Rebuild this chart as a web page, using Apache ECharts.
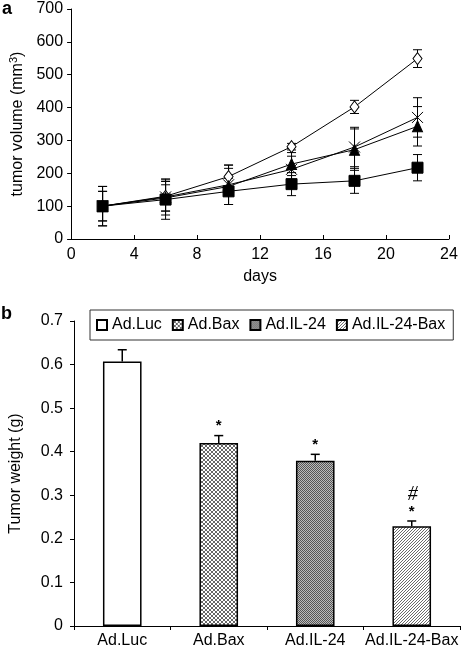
<!DOCTYPE html>
<html><head><meta charset="utf-8">
<script src="https://cdn.jsdelivr.net/npm/echarts@6/dist/echarts.min.js"></script>
<style>html,body{margin:0;padding:0;background:#fff}#c{width:462px;height:650px}</style>
</head><body><div id="c"></div>
<script>
// ---- panel a: tumor volume (mm3) over days ----
const days = [2, 6, 10, 14, 18, 22];
const lucVol = [100, 130, 190, 281, 402, 549];
const lucErr = [45, 45, 35, 10, 20, 27];
const baxVol = [100, 128, 165, 212, 280, 370];
const baxErr = [60, 55, 60, 40, 60, 60];
const il24Vol = [100, 125, 160, 228, 272, 343];
const il24Err = [45, 40, 55, 35, 63, 60];
const comboVol = [100, 120, 145, 167, 177, 217];
const comboErr = [60, 60, 40, 35, 38, 40];
const xTicks = [0, 4, 8, 12, 16, 20, 24];
const yTicksA = [0, 100, 200, 300, 400, 500, 600, 700];

// ---- panel b: tumor weight (g) ----
const barCats = ['Ad.Luc', 'Ad.Bax', 'Ad.IL-24', 'Ad.IL-24-Bax'];
const barVals = [0.607, 0.420, 0.379, 0.229];
const barErr = [0.027, 0.017, 0.015, 0.012];
const barStar = ['', '*', '*', '*'];
const barHash = ['', '', '', '#'];
const yTicksB = [0, 0.1, 0.2, 0.3, 0.4, 0.5, 0.6, 0.7];

const FONT = "'Liberation Sans', Arial, sans-serif";
const FS = 16;

function pat(w, h, draw) {
  const c = document.createElement('canvas');
  c.width = w; c.height = h;
  const g = c.getContext('2d');
  g.fillStyle = '#fff'; g.fillRect(0, 0, w, h);
  draw(g);
  return { image: c, repeat: 'repeat' };
}
const patLuc = '#fff';
const patBax = pat(4, 4, g => {
  g.fillStyle = '#666';
  for (let i = 0; i < 4; i++) { g.fillRect(i, i, 1, 1); g.fillRect(3 - i, i, 1, 1); }
});
const patIl = pat(2, 2, g => {
  g.fillStyle = '#bbb'; g.fillRect(0, 0, 2, 2);
  g.fillStyle = '#555'; g.fillRect(0, 0, 1, 1); g.fillRect(1, 1, 1, 1);
});
const patCombo = pat(3, 3, g => {
  g.fillStyle = '#6a6a6a';
  g.fillRect(2, 0, 1, 1); g.fillRect(1, 1, 1, 1); g.fillRect(0, 2, 1, 1);
});
const barFills = [patLuc, patBax, patIl, patCombo];

const chart = echarts.init(document.getElementById('c'), null, { renderer: 'canvas' });

function lineSeries(name, vals, symbol, size, fill) {
  return {
    name: name, type: 'line', xAxisIndex: 0, yAxisIndex: 0,
    data: days.map((d, i) => [d, vals[i]]),
    symbol: symbol, symbolSize: size, showAllSymbol: true,
    lineStyle: { color: '#000', width: 1 },
    itemStyle: { color: fill, borderColor: '#000', borderWidth: 1 },
    z: 5, animation: false
  };
}
function errSeries(vals, errs, z) {
  return {
    type: 'custom', xAxisIndex: 0, yAxisIndex: 0, z: z, animation: false,
    data: days.map((d, i) => [d, vals[i] - errs[i], vals[i] + errs[i]]),
    renderItem: function (params, api) {
      const lo = api.coord([api.value(0), api.value(1)]);
      const hi = api.coord([api.value(0), api.value(2)]);
      const w = 4.5;
      const st = { stroke: '#000', lineWidth: 1 };
      return {
        type: 'group', children: [
          { type: 'line', shape: { x1: lo[0], y1: lo[1], x2: hi[0], y2: hi[1] }, style: st },
          { type: 'line', shape: { x1: lo[0] - w, y1: lo[1], x2: lo[0] + w, y2: lo[1] }, style: st },
          { type: 'line', shape: { x1: hi[0] - w, y1: hi[1], x2: hi[0] + w, y2: hi[1] }, style: st }
        ]
      };
    }
  };
}

const barSeries = barCats.map((name, k) => ({
  name: name, type: 'bar', xAxisIndex: 1, yAxisIndex: 1,
  data: barVals.map((v, i) => (i === k ? v : '-')),
  barWidth: '40%', barGap: '-100%',
  itemStyle: { color: barFills[k], borderColor: '#000', borderWidth: 1.5 },
  animation: false, z: 3
}));

const option = {
  backgroundColor: '#fff',
  textStyle: { fontFamily: FONT, color: '#000' },
  grid: [
    { left: 71, right: 13, top: 9, bottom: 411, containLabel: false },
    { left: 67, right: 2, top: 321, bottom: 24, containLabel: false }
  ],
  legend: {
    data: barCats, left: 90, right: 0, top: 310,
    orient: 'horizontal',
    padding: [7, 8, 7, 6], itemGap: 10,
    itemWidth: 10, itemHeight: 10, icon: 'rect',
    borderColor: '#333', borderWidth: 1,
    textStyle: { fontFamily: FONT, fontSize: FS, color: '#000' },
    selectedMode: false
  },
  xAxis: [
    {
      type: 'value', gridIndex: 0, min: 0, max: 24, interval: 4,
      name: 'days', nameLocation: 'middle', nameGap: 30,
      nameTextStyle: { fontSize: FS, color: '#000', fontFamily: FONT },
      axisLine: { lineStyle: { color: '#000', width: 1 } },
      axisTick: { inside: true, length: 4, lineStyle: { color: '#000' } },
      axisLabel: { fontSize: FS, color: '#000', margin: 8, fontFamily: FONT,
        formatter: v => (xTicks.indexOf(v) >= 0 ? String(v) : '') },
      splitLine: { show: false }
    },
    {
      type: 'category', gridIndex: 1, data: barCats,
      axisLine: { lineStyle: { color: '#000', width: 1 } },
      axisTick: { show: true, length: 4, lineStyle: { color: '#000' } },
      axisLabel: { fontSize: FS, color: '#000', margin: 7, fontFamily: FONT, interval: 0 },
      splitLine: { show: false }
    }
  ],
  yAxis: [
    {
      type: 'value', gridIndex: 0, min: 0, max: 700, interval: 100,
      name: '{a|tumor volume (mm}{s|3}{a|)}', nameLocation: 'middle', nameGap: 40,
      nameTextStyle: {
        rich: {
          a: { fontSize: FS, color: '#000', fontFamily: FONT },
          s: { fontSize: 11, color: '#000', fontFamily: FONT, verticalAlign: 'top', padding: [0, 0, 8, 0] }
        }
      },
      axisLine: { show: true, lineStyle: { color: '#000', width: 1 } },
      axisTick: { show: true, length: 4, lineStyle: { color: '#000' } },
      axisLabel: { fontSize: FS, color: '#000', margin: 8, fontFamily: FONT,
        formatter: v => (yTicksA.indexOf(v) >= 0 ? String(v) : '') },
      splitLine: { show: false }
    },
    {
      type: 'value', gridIndex: 1, min: 0, max: 0.7, interval: 0.1,
      name: 'Tumor weight (g)', nameLocation: 'middle', nameGap: 50,
      nameTextStyle: { fontSize: FS, color: '#000', fontFamily: FONT },
      axisLine: { show: true, lineStyle: { color: '#000', width: 1 } },
      axisTick: { show: true, length: 4, lineStyle: { color: '#000' } },
      axisLabel: { fontSize: FS, color: '#000', margin: 11, fontFamily: FONT,
        formatter: v => { const r = Math.round(v * 10) / 10; return yTicksB.indexOf(r) >= 0 ? String(r) : ''; } },
      splitLine: { show: false }
    }
  ],
  graphic: [
    { type: 'text', left: 2, top: 0, style: { text: 'a', font: "bold 18px " + FONT, fill: '#000' } },
    { type: 'text', left: 1, top: 305, style: { text: 'b', font: "bold 18px " + FONT, fill: '#000' } }
  ],
  series: [
    errSeries(lucVol, lucErr, 2),
    errSeries(baxVol, baxErr, 2),
    errSeries(il24Vol, il24Err, 2),
    errSeries(comboVol, comboErr, 2),
    lineSeries('Ad.Luc volume', lucVol, 'diamond', [9, 12], '#fff'),
    lineSeries('Ad.Bax volume', baxVol, 'path://M0,0L10,10M10,0L0,10', [11, 11], 'none'),
    lineSeries('Ad.IL-24 volume', il24Vol, 'triangle', [10, 11], '#000'),
    lineSeries('Ad.IL-24-Bax volume', comboVol, 'rect', [11, 11], '#000'),
    ...barSeries,
    {
      type: 'custom', xAxisIndex: 1, yAxisIndex: 1, z: 4, animation: false,
      data: barVals.map((v, i) => [i, v, barErr[i]]),
      renderItem: function (params, api) {
        const i = params.dataIndex;
        const base = api.coord([api.value(0), api.value(1)]);
        const top = api.coord([api.value(0), api.value(1) + api.value(2)]);
        const w = 4.5;
        const st = { stroke: '#000', lineWidth: 1.5 };
        const kids = [
          { type: 'line', shape: { x1: base[0], y1: base[1], x2: top[0], y2: top[1] }, style: st },
          { type: 'line', shape: { x1: top[0] - w, y1: top[1], x2: top[0] + w, y2: top[1] }, style: st }
        ];
        if (barStar[i]) kids.push({ type: 'text', style: { text: barStar[i], x: top[0], y: top[1] - 2,
          align: 'center', verticalAlign: 'bottom', font: 'bold 15px ' + FONT, fill: '#000' } });
        if (barHash[i]) kids.push({ type: 'text', style: { text: barHash[i], x: top[0] + 1, y: top[1] - 16,
          align: 'center', verticalAlign: 'bottom', font: 'italic 20px "Liberation Serif", serif', fill: '#000' } });
        return { type: 'group', children: kids };
      }
    }
  ]
};
chart.setOption(option);
</script>
</body></html>
